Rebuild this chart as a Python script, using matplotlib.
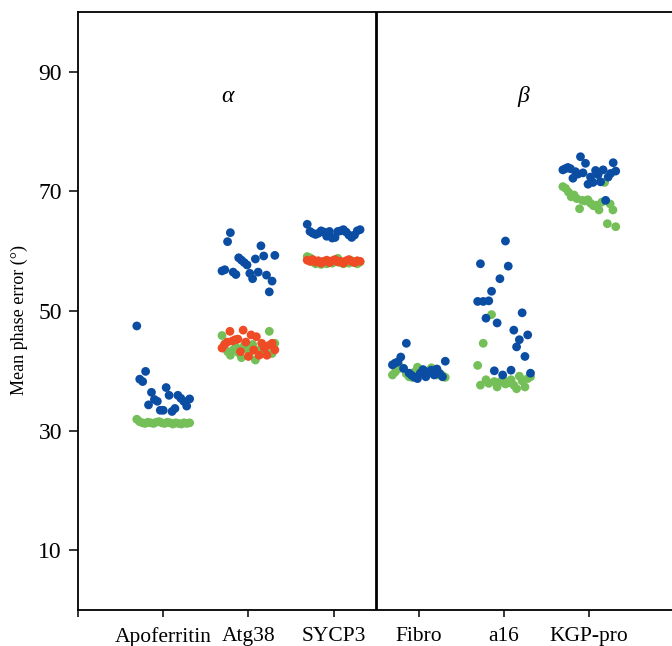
"""Mean phase error per protein, strip plot of three series (alpha / beta groups)."""

import matplotlib

matplotlib.use("Agg")
import matplotlib.pyplot as plt
import numpy as np

plt.rcParams["font.family"] = ["Liberation Serif", "DejaVu Serif"]

categories = ["Apoferritin", "Atg38", "SYCP3", "Fibro", "a16", "KGP-pro"]
group_labels = ["α", "β"]

# values per category, ordered left to right inside each strip
blue = {
    "Apoferritin": [47.5, 38.6, 38.2, 39.9, 34.3, 36.4, 35.2, 34.9, 33.4, 33.4,
                    37.2, 35.9, 33.2, 33.7, 35.9, 35.4, 34.9, 34.1, 35.3],
    "Atg38": [56.7, 56.9, 61.6, 63.1, 56.5, 56.1, 58.9, 58.5, 58.1, 57.7,
              56.3, 55.4, 58.7, 56.5, 60.9, 59.2, 56.0, 53.2, 55.0, 59.3],
    "SYCP3": [64.5, 63.3, 63.0, 62.8, 63.0, 63.4, 63.2, 62.5, 63.3, 62.2,
              62.3, 63.3, 63.4, 63.6, 63.2, 62.7, 62.3, 62.7, 63.4, 63.6],
    "Fibro": [41.0, 41.3, 41.5, 42.3, 40.4, 44.6, 39.6, 39.2, 38.9, 38.7,
              39.6, 40.2, 39.0, 39.8, 40.1, 39.3, 40.3, 39.5, 39.0, 41.6],
    "a16": [51.6, 57.9, 51.6, 48.8, 51.7, 53.3, 40.0, 48.0, 55.4, 39.3,
            61.7, 57.5, 40.1, 46.8, 44.0, 45.2, 49.7, 42.4, 46.0, 39.6],
    "KGP-pro": [73.6, 73.8, 74.0, 73.8, 72.2, 73.3, 72.9, 75.8, 73.1, 74.7,
                71.2, 72.4, 71.5, 73.5, 72.8, 71.6, 73.6, 68.5, 72.4, 73.0,
                74.8, 73.4],
}
green = {
    "Apoferritin": [31.9, 31.5, 31.3, 31.2, 31.4, 31.3, 31.2, 31.4, 31.5, 31.3,
                    31.2, 31.4, 31.3, 31.1, 31.3, 31.2, 31.1, 31.3, 31.2, 31.3],
    "Atg38": [45.9, 44.5, 43.2, 42.6, 43.5, 44.0, 43.0, 42.2, 44.2, 43.6,
              43.0, 44.4, 41.8, 43.4, 42.8, 44.2, 43.0, 46.6, 42.9, 44.6],
    "SYCP3": [59.1, 58.9, 58.2, 57.9, 58.1, 57.8, 58.3, 57.9, 58.2, 58.0,
              58.5, 58.8, 58.1, 57.9, 58.3, 58.0, 58.4, 58.1, 57.9, 58.2],
    "Fibro": [39.3, 39.8, 40.3, 40.6, 40.4, 39.5, 39.0, 38.9, 39.8, 40.6,
              40.2, 39.7, 39.4, 40.0, 40.5, 39.8, 39.3, 39.6, 39.2, 38.9],
    "a16": [40.9, 37.6, 44.6, 38.5, 37.9, 49.4, 38.2, 37.3, 38.1, 38.6,
            37.8, 38.0, 38.5, 37.6, 37.0, 39.1, 38.3, 37.3, 38.7, 39.0],
    "KGP-pro": [70.8, 70.5, 69.9, 69.1, 69.4, 68.8, 67.1, 68.5, 68.4, 68.6,
                68.0, 67.6, 67.7, 66.9, 68.2, 71.5, 64.6, 67.9, 66.9, 64.1],
}
red = {
    "Atg38": [43.8, 44.4, 44.8, 46.6, 45.0, 45.2, 45.3, 43.2, 46.8, 44.8,
              42.4, 46.0, 43.5, 45.7, 42.6, 44.6, 43.8, 42.6, 44.3, 44.6, 43.5],
    "SYCP3": [58.5, 58.3, 58.6, 58.2, 58.4, 58.0, 58.3, 58.5, 58.1, 58.4,
              58.6, 58.2, 58.3, 58.0, 58.4, 58.6, 58.3, 58.1, 58.4, 58.3],
}

colors = {"blue": "#0B4DA2", "green": "#74BF57", "red": "#EF4B24"}


def main() -> None:
    fig = plt.figure(figsize=(6.72, 6.46), dpi=100)
    ax = fig.add_axes([78 / 672, 36 / 646, 596.5 / 672, 598 / 646])

    half = 0.31
    for series, color in [(green, colors["green"]), (red, colors["red"]), (blue, colors["blue"])]:
        for name, vals in series.items():
            center = categories.index(name) + 1
            xs = center + np.linspace(-half, half, len(vals))
            ax.scatter(xs, vals, s=40, color=color, edgecolors="none", zorder=3)

    ax.axvline(3.5, color="black", linewidth=2.0, zorder=4)

    ax.set_xlim(0, 7)
    ax.set_ylim(0, 100)
    ax.set_xticks(range(0, 8))
    ax.set_xticklabels([""] + categories + [""], fontsize=15.5)
    ax.set_yticks([10, 30, 50, 70, 90])
    ax.tick_params(axis="y", labelsize=17, length=6.5, width=1.1, pad=5)
    ax.tick_params(axis="x", length=5, width=1.1, pad=7)
    ax.set_ylabel("Mean phase error (°)", fontsize=13)
    ax.yaxis.set_label_coords(-0.084, 0.485)

    for side in ["left", "bottom", "top"]:
        ax.spines[side].set_linewidth(1.3)
    ax.spines["right"].set_visible(False)

    ax.text(1.76, 85.8, group_labels[0], fontsize=17, style="italic", ha="center", va="center")
    ax.text(5.22, 85.8, group_labels[1], fontsize=17, style="italic", ha="center", va="center")

    fig.savefig("out.png", dpi=100)
    plt.close(fig)


if __name__ == "__main__":
    main()
